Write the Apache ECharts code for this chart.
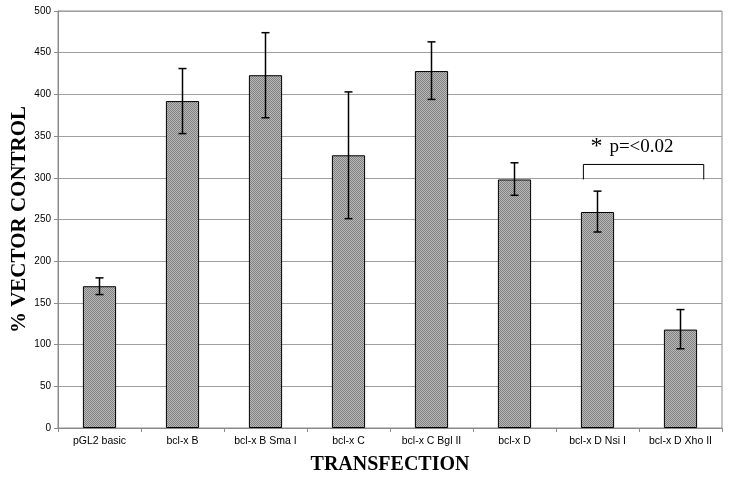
<!DOCTYPE html>
<html>
<head>
<meta charset="utf-8">
<script src="https://cdn.jsdelivr.net/npm/echarts@6/dist/echarts.min.js"></script>
<style>
  html, body { margin: 0; padding: 0; background: #fff; }
  #chart { width: 731px; height: 477px; }
</style>
</head>
<body>
<div id="chart"></div>
<script>
// values
let categories = ['pGL2 basic', 'bcl-x B', 'bcl-x B Sma I', 'bcl-x C', 'bcl-x C Bgl II', 'bcl-x D', 'bcl-x D Nsi I', 'bcl-x D Xho II']
let means = [170, 392, 423, 327, 428, 298, 259, 118]
let errLow = [160, 353, 372, 251, 394, 279, 235, 95]
let errHigh = [180, 431, 474, 403, 463, 318, 284, 142]
// significance bracket: from category, to category, level
let bracket = [[6, 7, 316]]
let bracketStar = '*'
let bracketText = 'p=<0.02'

// dotted grey fill like the printed halftone
function makePattern() {
  let c = document.createElement('canvas')
  c.width = 2
  c.height = 2
  let ctx = c.getContext('2d')
  ctx.fillStyle = '#b8b8b8'
  ctx.fillRect(0, 0, 2, 2)
  ctx.fillStyle = '#828282'
  ctx.fillRect(0, 0, 1, 1)
  ctx.fillRect(1, 1, 1, 1)
  return c
}

let chart = echarts.init(document.getElementById('chart'))

let option = {
  animation: false,
  grid: {
    left: 58,
    right: 9,
    top: 11,
    bottom: 49,
    outerBoundsMode: 'none',
    containLabel: false,
    show: true,
    borderColor: '#8a8a8a',
    borderWidth: 1,
  },
  xAxis: {
    type: 'category',
    data: categories,
    name: 'TRANSFECTION',
    nameLocation: 'middle',
    nameGap: 27,
    nameMoveOverlap: false,
    nameTextStyle: {
      fontFamily: 'Liberation Serif',
      fontWeight: 'bold',
      fontSize: 20,
      color: '#000',
    },
    axisLine: { lineStyle: { color: '#8a8a8a' } },
    axisTick: { show: true, length: 4, lineStyle: { color: '#8a8a8a' } },
    axisLabel: {
      color: '#000',
      fontFamily: 'Liberation Sans, sans-serif',
      fontSize: 10.5,
      margin: 8,
    },
  },
  yAxis: {
    type: 'value',
    min: 0,
    max: 500,
    interval: 50,
    name: '% VECTOR CONTROL',
    nameLocation: 'middle',
    nameRotate: 90,
    nameGap: 28,
    nameMoveOverlap: false,
    nameTextStyle: {
      fontFamily: 'Liberation Serif',
      fontWeight: 'bold',
      fontSize: 21,
      color: '#000',
    },
    axisLine: { show: true, lineStyle: { color: '#8a8a8a' } },
    axisTick: { show: true, length: 4, lineStyle: { color: '#8a8a8a' } },
    axisLabel: {
      color: '#000',
      fontFamily: 'Liberation Sans, sans-serif',
      fontSize: 10,
      margin: 7,
    },
    splitLine: { lineStyle: { color: '#a0a0a0' } },
  },
  series: [
    {
      type: 'bar',
      data: means,
      barWidth: '40%',
      itemStyle: {
        color: { image: makePattern(), repeat: 'repeat' },
        borderColor: '#000',
        borderWidth: 1,
      },
      z: 2,
    },
    {
      type: 'custom',
      data: categories.map((_, i) => [i, errLow[i], errHigh[i]]),
      z: 3,
      renderItem: function (params, api) {
        let lo = api.coord([api.value(0), api.value(1)])
        let hi = api.coord([api.value(0), api.value(2)])
        let cap = 4
        let st = { stroke: '#000', lineWidth: 1.5 }
        return {
          type: 'group',
          children: [
            { type: 'line', shape: { x1: hi[0], y1: hi[1], x2: lo[0], y2: lo[1] }, style: st },
            { type: 'line', shape: { x1: hi[0] - cap, y1: hi[1], x2: hi[0] + cap, y2: hi[1] }, style: st },
            { type: 'line', shape: { x1: lo[0] - cap, y1: lo[1], x2: lo[0] + cap, y2: lo[1] }, style: st },
          ],
        }
      },
    },
    {
      type: 'custom',
      data: bracket,
      z: 4,
      renderItem: function (params, api) {
        let band = api.size([1, 0])[0]
        let a = api.coord([api.value(0), api.value(2)])
        let b = api.coord([api.value(1), api.value(2)])
        let x1 = a[0] - band * 0.17
        let x2 = b[0] + band * 0.28
        let y = a[1]
        let drop = 15
        let st = { stroke: '#000', lineWidth: 1, fill: null }
        return {
          type: 'group',
          children: [
            {
              type: 'polyline',
              shape: { points: [[x1, y + drop], [x1, y], [x2, y], [x2, y + drop]] },
              style: st,
            },
            {
              type: 'text',
              style: {
                text: bracketStar,
                x: x1 + 7,
                y: y - 6,
                textVerticalAlign: 'bottom',
                font: '24px "Liberation Serif"',
                fill: '#000',
              },
            },
            {
              type: 'text',
              style: {
                text: bracketText,
                x: x1 + 26,
                y: y - 8,
                textVerticalAlign: 'bottom',
                font: '19px "Liberation Serif"',
                fill: '#000',
              },
            },
          ],
        }
      },
    },
  ],
}

chart.setOption(option)
</script>
</body>
</html>
